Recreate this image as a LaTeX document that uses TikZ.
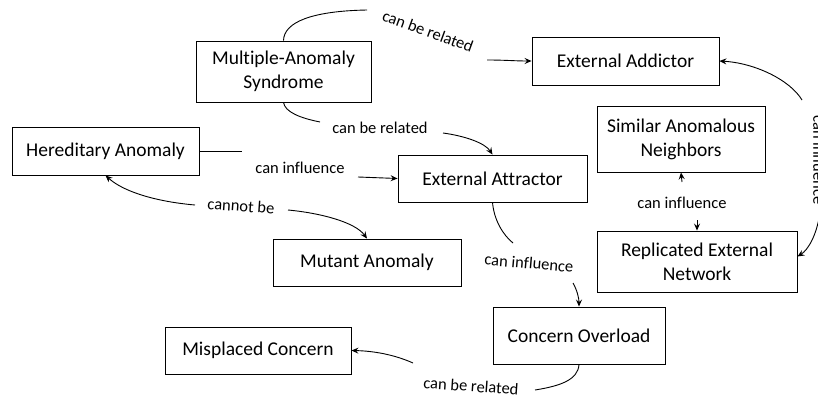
\documentclass[tikz,border=0pt]{standalone}
\usepackage{fontspec}
\setmainfont{Carlito}[Ligatures=CommonOff]
\usetikzlibrary{arrows.meta}
\tikzset{
  box/.style={draw, line width=0.9pt, fill=white, inner sep=0pt, align=center,
    font=\fontsize{19.5}{24}\selectfont},
  lbl/.style={inner sep=0pt, font=\fontsize{16.5}{20}\selectfont},
  conn/.style={line width=0.9pt},
  arr/.style={conn, -{Stealth[length=7pt,width=6pt,inset=2.5pt]}}
}
\begin{document}
\begin{tikzpicture}[x=1pt,y=-1pt]
\useasboundingbox (0,0) rectangle (818,401);
% boxes
\node[box, minimum width=175pt, minimum height=61pt] (mas) at (283.5,71.5) {Multiple-Anomaly\\Syndrome};
\node[box, minimum width=187pt, minimum height=48pt] (ead) at (625.5,61) {External Addictor};
\node[box, minimum width=187pt, minimum height=48pt] (ha) at (105.5,151) {Hereditary Anomaly};
\node[box, minimum width=189pt, minimum height=47pt] (eat) at (492.5,178.5) {External Attractor};
\node[box, minimum width=168pt, minimum height=66pt] (sim) at (681,139) {Similar Anomalous\\Neighbors};
\node[box, minimum width=200pt, minimum height=61pt] (rep) at (697,261.5) {Replicated External\\Network};
\node[box, minimum width=188pt, minimum height=47pt] (mut) at (367,262.5) {Mutant Anomaly};
\node[box, minimum width=172pt, minimum height=57pt] (co) at (579,335.5) {Concern Overload};
\node[box, minimum width=186pt, minimum height=47pt] (mc) at (258,350.5) {Misplaced Concern};
% labels
\node[lbl, rotate=-20] (l1) at (428,31) {can be related};
\node[lbl] (l2) at (380,128) {can be related};
\node[lbl] (l3) at (300,168) {can influence};
\node[lbl, rotate=-4] (l4) at (241,206) {cannot be};
\node[lbl, rotate=-5] (l5) at (529,263) {can influence};
\node[lbl, rotate=-4] (l6) at (471,386) {can be related};
\node[lbl] (l7) at (682,203) {can influence};
\node[lbl, rotate=-90] (l8) at (819,160) {can influence};
% gap end points
\coordinate (c1a) at (367,10);  \coordinate (c1b) at (487,60);
\coordinate (c2a) at (320,122); \coordinate (c2b) at (443,133);
\coordinate (c3a) at (242,151); \coordinate (c3b) at (358,177);
\coordinate (c4a) at (195,205); \coordinate (c4b) at (288,210);
\coordinate (c5a) at (513,243); \coordinate (c5b) at (573,283);
\coordinate (c6a) at (535,390); \coordinate (c6b) at (413,363);
\coordinate (c7a) at (682,182); \coordinate (c7b) at (697,220);
\coordinate (c8a) at (802,100); \coordinate (c8b) at (820,212);
% connectors
\draw[conn] (mas.north) .. controls (284,22) and (312,11) .. (c1a);
\draw[arr] (c1b) .. controls (505,60) and (515,61) .. (ead.west);
\draw[conn] (mas.south) .. controls (285,112) and (300,118) .. (c2a);
\draw[arr] (c2b) .. controls (465,136) and (485,143) .. (eat.north);
\draw[conn] (ha.east) -- (c3a);
\draw[arr] (c3b) -- (eat.west);
\draw[arr] (c4a) .. controls (160,202) and (125,193) .. (ha.south);
\draw[arr] (c4b) .. controls (320,213) and (355,222) .. (mut.north);
\draw[conn] (eat.south) .. controls (494,220) and (503,235) .. (c5a);
\draw[arr] (c5b) .. controls (577,290) and (579,298) .. (co.north);
\draw[conn] (co.south) .. controls (578,380) and (560,386) .. (c6a);
\draw[arr] (c6b) .. controls (395,355) and (375,351) .. (mc.east);
\draw[arr] (c7a) -- (sim.south);
\draw[arr] (c7b) -- (rep.north);
\draw[arr] (c8a) .. controls (790,80) and (755,63) .. (ead.east);
\draw[arr] (c8b) .. controls (817,235) and (808,250) .. ([yshift=5pt]rep.east);
\end{tikzpicture}
\end{document}
